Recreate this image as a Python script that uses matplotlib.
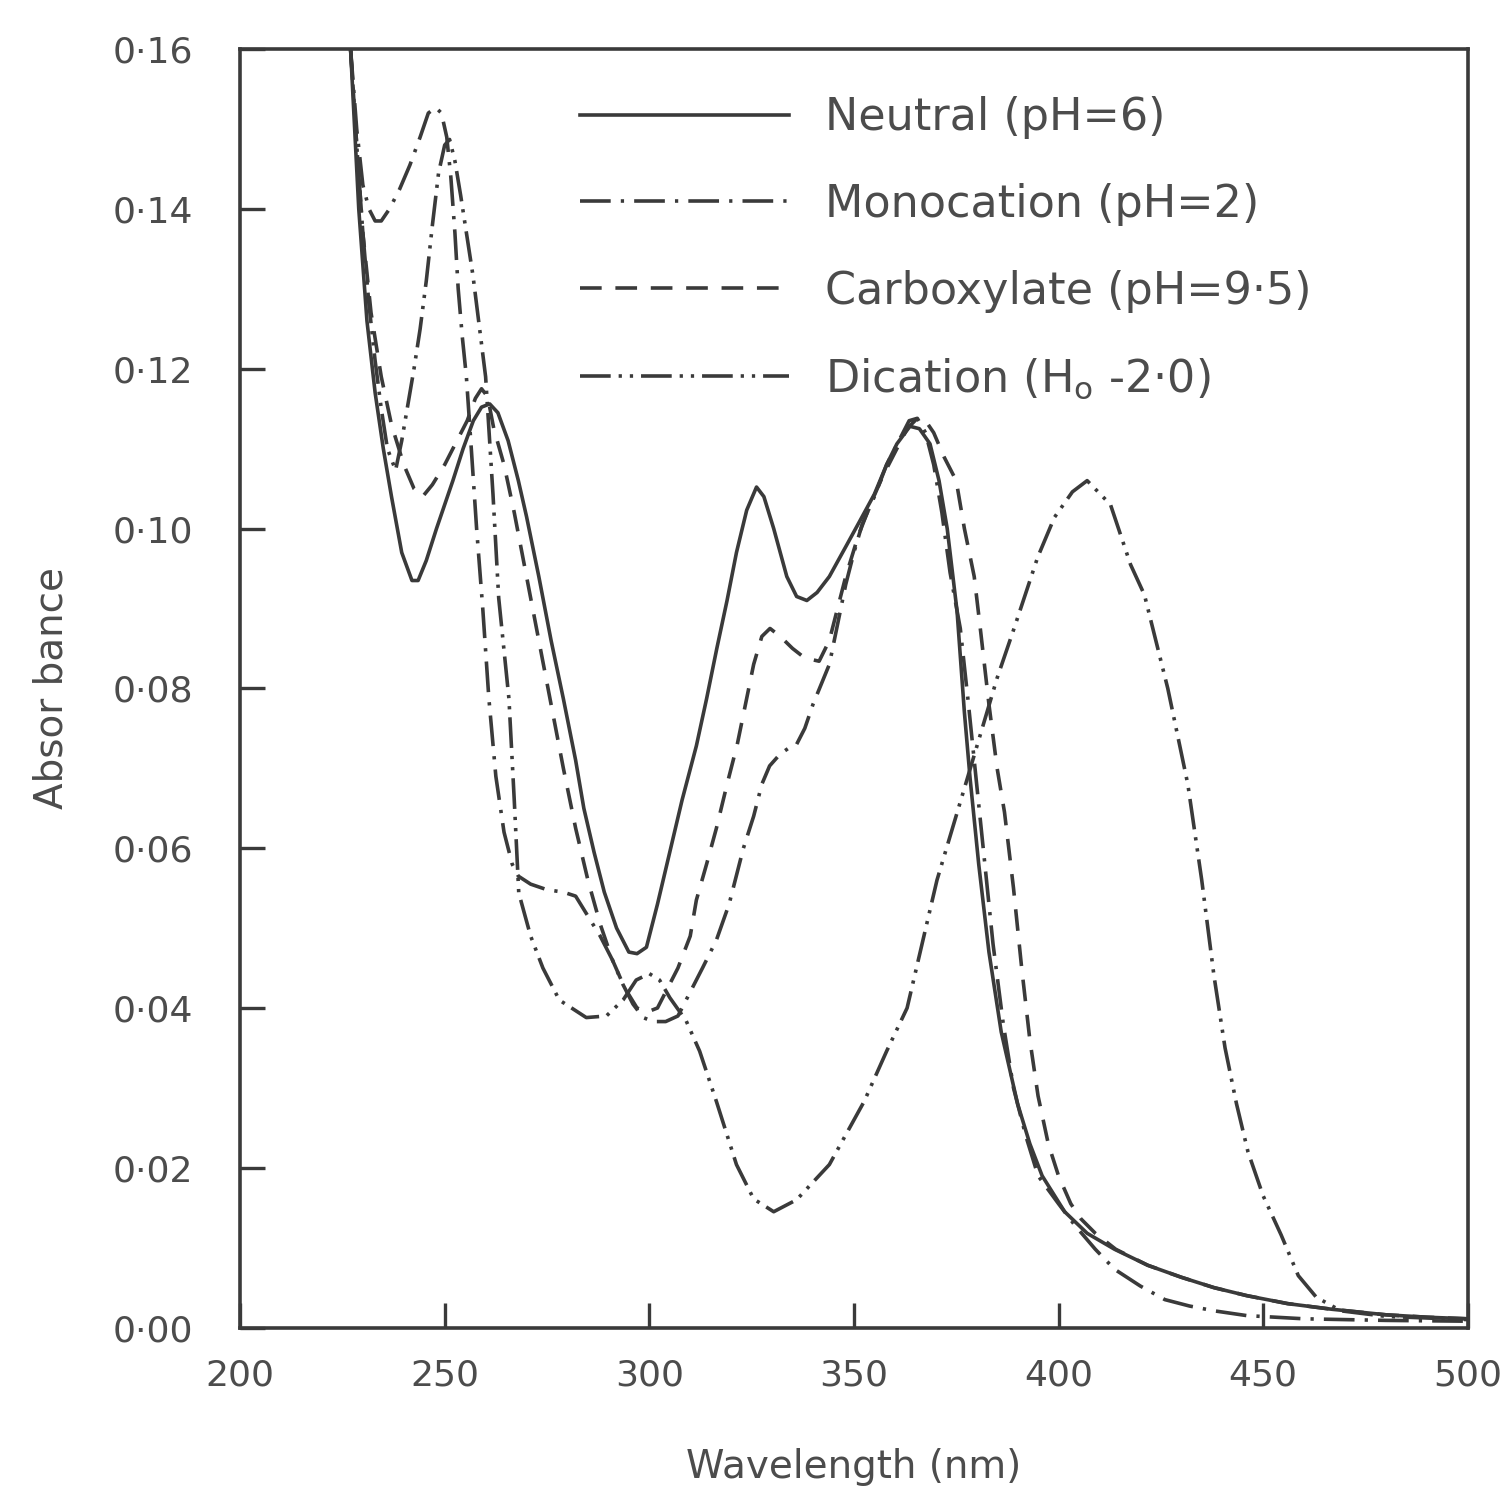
import matplotlib
matplotlib.use("Agg")
import matplotlib.pyplot as plt

# wavelength (nm) / absorbance
wl_neutral = [227, 229, 231, 233, 235, 237, 239.5, 242, 243.5, 245.5, 248, 250, 252,
              254.5, 257, 259, 261, 263, 265.5, 268, 270, 273, 276, 279, 282, 284,
              286.5, 289, 292, 295, 297, 299.3, 302, 305, 308, 311.5, 314, 316.5,
              319, 321.3, 323.8, 326.2, 328, 330.4, 333.6, 336, 338.5, 341, 344,
              348.3, 351.5, 355, 358, 360.5, 363.7, 366, 368.6, 370.8, 372.8, 375.2,
              377, 378.4, 380.5, 383, 386, 390, 393, 396, 401.5, 407, 413.7, 421.8,
              430, 438, 446, 456, 466.7, 480, 490, 500]
ab_neutral = [0.160, 0.140, 0.126, 0.117, 0.110, 0.104, 0.097, 0.0935, 0.0935, 0.096,
              0.100, 0.103, 0.106, 0.110, 0.1135, 0.1152, 0.1156, 0.1145, 0.111, 0.106,
              0.1015, 0.094, 0.086, 0.0787, 0.071, 0.065, 0.0595, 0.0545, 0.050, 0.047,
              0.0468, 0.0476, 0.053, 0.0595, 0.066, 0.0728, 0.0787, 0.085, 0.091, 0.097,
              0.1023, 0.1052, 0.104, 0.100, 0.094, 0.0915, 0.091, 0.092, 0.094, 0.098,
              0.101, 0.1043, 0.108, 0.1106, 0.1128, 0.1125, 0.1106, 0.106, 0.100,
              0.0897, 0.077, 0.0687, 0.058, 0.047, 0.037, 0.028, 0.023, 0.019, 0.0145,
              0.0118, 0.0098, 0.0078, 0.0063, 0.005, 0.004, 0.003, 0.0023, 0.0016,
              0.0013, 0.0011]

wl_mono = [227, 228.5, 230, 231.5, 233, 234.5, 236.5, 239, 241.5, 244, 246, 247.8,
           249.2, 250.5, 251.5, 252.5, 253.3, 254.3, 255.3, 256.5, 257.8, 259.3, 260.8,
           262.5, 264.5, 266.5, 268, 271, 275, 279, 282, 285, 288, 291, 293.5, 296,
           298.5, 301, 304, 307, 310, 313, 316.4, 319.5, 323, 325.5, 327.5, 329.4, 332,
           334, 336, 338, 340, 342, 344, 346, 348, 350, 352, 355, 358, 361, 363.5,
           365.5, 367.5, 369.5, 371.5, 373.5, 376, 378, 380, 382, 384, 386.5, 389, 392,
           395, 400, 404, 409, 413.7, 420, 426, 432, 438, 446, 460, 480, 500]
ab_mono = [0.160, 0.150, 0.143, 0.140, 0.1385, 0.1385, 0.140, 0.1425, 0.1455, 0.149,
           0.152, 0.1527, 0.152, 0.149, 0.144, 0.137, 0.130, 0.124, 0.119, 0.110, 0.100,
           0.090, 0.0787, 0.069, 0.062, 0.058, 0.0565, 0.0555, 0.0548, 0.0545, 0.054,
           0.0515, 0.049, 0.046, 0.043, 0.0405, 0.0388, 0.0383, 0.0383, 0.039, 0.042,
           0.045, 0.0485, 0.053, 0.060, 0.064, 0.068, 0.0703, 0.0718, 0.0725, 0.073,
           0.075, 0.078, 0.0805, 0.083, 0.088, 0.093, 0.097, 0.1005, 0.104, 0.108,
           0.111, 0.1135, 0.1138, 0.112, 0.108, 0.102, 0.0945, 0.0875, 0.078, 0.068,
           0.058, 0.048, 0.038, 0.030, 0.024, 0.019, 0.0155, 0.0128, 0.0098, 0.0073,
           0.0052, 0.0035, 0.0027, 0.0021, 0.0015, 0.0011, 0.0009, 0.0008]

wl_carb = [227, 228.5, 230, 232, 234.5, 237, 240, 242.5, 244.6, 247, 250, 253, 255.5,
           257.5, 259, 260.5, 262, 264.5, 267, 270, 273, 276, 279, 282, 285, 288, 291,
           294, 297, 299.5, 302, 304.5, 307, 310, 311.5, 314, 316.4, 319, 321.5, 323.5,
           325.5, 327.5, 329.5, 332, 335, 338, 341.5, 344, 346, 348, 351, 354, 357, 360,
           363, 365.5, 367.5, 369.5, 372, 375, 377, 379.4, 381, 383, 385, 386.8, 389,
           391, 393, 395, 397.5, 400, 403, 405.5, 409, 414, 421.8, 430, 438, 446, 456,
           466.7, 480, 490, 500]
ab_carb = [0.160, 0.148, 0.137, 0.127, 0.119, 0.113, 0.108, 0.105, 0.104, 0.1055, 0.108,
           0.111, 0.1135, 0.1163, 0.1175, 0.1165, 0.1125, 0.108, 0.102, 0.094, 0.086,
           0.078, 0.070, 0.0625, 0.056, 0.0505, 0.046, 0.0425, 0.040, 0.0395, 0.040,
           0.0425, 0.045, 0.049, 0.0535, 0.058, 0.0625, 0.068, 0.073, 0.078, 0.083,
           0.0865, 0.0875, 0.0865, 0.085, 0.0838, 0.0834, 0.086, 0.090, 0.094, 0.099,
           0.103, 0.1065, 0.1095, 0.1125, 0.1138, 0.1135, 0.112, 0.109, 0.106, 0.100,
           0.094, 0.087, 0.078, 0.070, 0.0645, 0.055, 0.045, 0.036, 0.029, 0.023, 0.019,
           0.0155, 0.0136, 0.0118, 0.0098, 0.0078, 0.0063, 0.005, 0.004, 0.003, 0.0023,
           0.0016, 0.0013, 0.0011]

wl_dicat = [227, 228.5, 230, 231.5, 233, 234.5, 236, 238, 239.5, 241, 242.5, 244,
            245.5, 247, 248.5, 250, 251.2, 252.5, 253.9, 256.9, 260, 261.8, 263.2,
            265.7, 267, 268.1, 271, 274, 278, 284.6, 289.5, 293.6, 296.8, 300, 302.5,
            305, 309, 312.3, 316.4, 321.3, 325.5, 330.4, 336, 344, 352.5, 358, 363,
            370.3, 377.7, 385, 389.2, 394.9, 399, 403.4, 407, 412.7, 417.6, 421, 426.7,
            431.6, 435, 438, 440.7, 443.5, 446.3, 450, 454.4, 458.6, 463, 469, 480, 500]
ab_dicat = [0.160, 0.148, 0.137, 0.128, 0.121, 0.115, 0.110, 0.1073, 0.111, 0.1155,
            0.120, 0.125, 0.131, 0.138, 0.1445, 0.148, 0.1487, 0.146, 0.1417, 0.1317,
            0.119, 0.1043, 0.0913, 0.0787, 0.066, 0.0544, 0.049, 0.045, 0.041, 0.0388,
            0.039, 0.041, 0.0435, 0.0443, 0.0435, 0.0413, 0.0384, 0.0346, 0.0283,
            0.0204, 0.0161, 0.0145, 0.016, 0.0204, 0.0283, 0.0346, 0.040, 0.056,
            0.0687, 0.0813, 0.0876, 0.0964, 0.1014, 0.1046, 0.106, 0.103, 0.0955,
            0.0917, 0.080, 0.068, 0.056, 0.044, 0.035, 0.028, 0.022, 0.0165, 0.0116,
            0.0065, 0.0038, 0.0021, 0.0014, 0.001]

labels = ["Neutral (pH=6)", "Monocation (pH=2)", "Carboxylate (pH=9·5)",
          "Dication (H$_\\mathrm{o}$ -2·0)"]
y_ticks = [0.00, 0.02, 0.04, 0.06, 0.08, 0.10, 0.12, 0.14, 0.16]
y_ticklabels = ["0·00", "0·02", "0·04", "0·06", "0·08", "0·10", "0·12", "0·14", "0·16"]
x_ticks = [200, 250, 300, 350, 400, 450, 500]

ink = "#3a3a3a"
txt = "#4c4c4c"
lw = 2.6

fig = plt.figure(figsize=(15.1, 14.9), dpi=100)
ax = fig.add_axes([0.159, 0.109, 0.813, 0.858])

ax.plot(wl_neutral, ab_neutral, color=ink, lw=lw, ls='-', label=labels[0])
ax.plot(wl_mono, ab_mono, color=ink, lw=lw, ls=(0, (8.5, 2.8, 0.9, 2.8)), label=labels[1])
ax.plot(wl_carb, ab_carb, color=ink, lw=lw, ls=(0, (6, 3.8)), label=labels[2])
ax.plot(wl_dicat, ab_dicat, color=ink, lw=lw, ls=(0, (8.5, 2.2, 0.9, 2.2, 0.9, 2.2)),
        label=labels[3])

ax.set_xlim(200, 500)
ax.set_ylim(0, 0.16)
ax.set_xticks(x_ticks)
ax.set_xticklabels([str(t) for t in x_ticks])
ax.set_yticks(y_ticks)
ax.set_yticklabels(y_ticklabels)
ax.tick_params(axis='both', direction='in', length=18, width=2.4, colors=ink,
               labelcolor=txt, labelsize=26)
ax.tick_params(axis='x', pad=22)
ax.tick_params(axis='y', pad=34)
for s in ax.spines.values():
    s.set_linewidth(2.6)
    s.set_color(ink)

ax.set_xlabel("Wavelength (nm)", fontsize=28, color=txt, labelpad=40)
ax.set_ylabel("Absor bance", fontsize=28, color=txt, labelpad=30)

leg = ax.legend(loc='upper left', bbox_to_anchor=(0.277, 0.963), frameon=False,
                fontsize=32, handlelength=4.7, handletextpad=0.8, labelspacing=0.98,
                borderpad=0, borderaxespad=0)
for t in leg.get_texts():
    t.set_color(txt)

fig.savefig("out.png", dpi=100)
